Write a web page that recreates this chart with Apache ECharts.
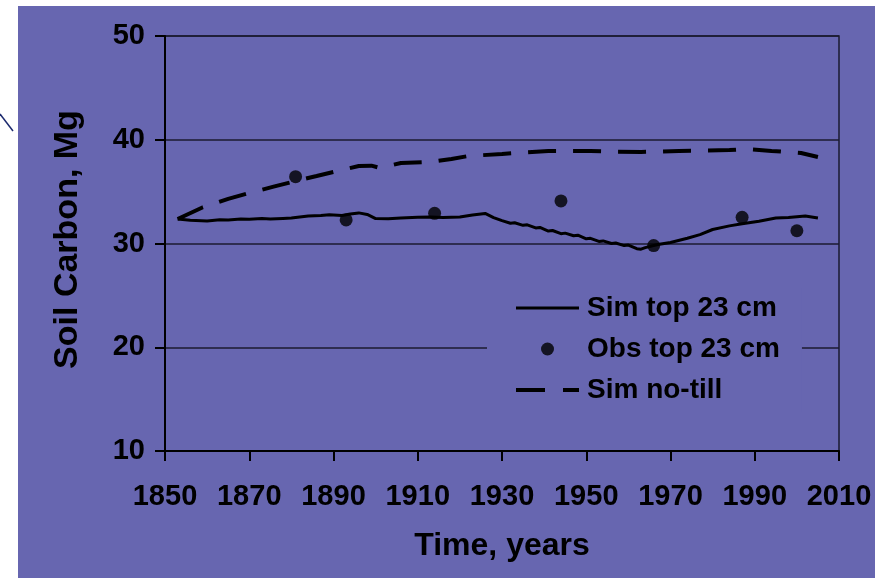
<!DOCTYPE html>
<html>
<head>
<meta charset="utf-8">
<script src="https://cdn.jsdelivr.net/npm/echarts@6/dist/echarts.min.js"></script>
<style>
  html, body { margin: 0; padding: 0; background: #ffffff; }
  #chart { width: 875px; height: 578px; }
</style>
</head>
<body>
<div id="chart"></div>
<script>
// Soil carbon in the top 23 cm, simulated vs observed, plus the simulated no-till scenario.
const baseYear = 1850;
const xTickYears = [1850, 1870, 1890, 1910, 1930, 1950, 1970, 1990, 2010];
const yTickValues = [10, 20, 30, 40, 50];

const simYears = [1853, 1856, 1860, 1863, 1865, 1868, 1870, 1873, 1875, 1878, 1880, 1884, 1887, 1889, 1892, 1894, 1896, 1898, 1900,
  1903, 1906, 1910, 1913, 1916, 1920, 1923, 1926, 1928, 1930, 1932, 1933, 1935, 1936, 1938, 1939, 1941, 1942, 1944, 1945, 1947,
  1948, 1950, 1951, 1953, 1954, 1956, 1957, 1959, 1960, 1962, 1963, 1964, 1967, 1970, 1974, 1977, 1980, 1984, 1987, 1991, 1995,
  1998, 2002, 2005];
const simValues = [32.36, 32.25, 32.17, 32.3, 32.27, 32.35, 32.33, 32.4, 32.36, 32.42, 32.46, 32.65, 32.7, 32.78, 32.7, 32.85, 32.95, 32.8, 32.4,
  32.38, 32.46, 32.52, 32.55, 32.5, 32.55, 32.75, 32.9, 32.5, 32.2, 31.95, 32.0, 31.75, 31.8, 31.5, 31.55, 31.2, 31.25, 30.95, 31.0, 30.75,
  30.8, 30.45, 30.5, 30.2, 30.25, 30.0, 30.05, 29.8, 29.85, 29.5, 29.45, 29.6, 29.9, 30.1, 30.5, 30.85, 31.35, 31.7, 31.9, 32.15, 32.45,
  32.5, 32.65, 32.45];

const obsYears = [1881, 1893, 1914, 1944, 1966, 1987, 2000];
const obsValues = [36.44, 32.27, 32.91, 34.1, 29.8, 32.52, 31.23];

const noTillYears = [1853, 1859, 1865, 1870, 1876, 1881, 1886, 1891, 1896, 1899, 1901, 1906, 1913, 1918, 1922, 1930, 1936, 1941,
  1951, 1957, 1963, 1972, 1984, 1988, 1994, 2001, 2005];
const noTillValues = [32.36, 33.5, 34.3, 34.87, 35.5, 36.02, 36.5, 36.99, 37.47, 37.5, 37.28, 37.76, 37.86, 38.15, 38.43, 38.63, 38.8, 38.92,
  38.92, 38.85, 38.82, 38.92, 39.01, 39.1, 38.92, 38.72, 38.34];

const seriesNames = ['Sim top 23 cm', 'Obs top 23 cm', 'Sim no-till'];

// x is plotted as years since 1850 so the tick grid starts exactly at 1850
const pairs = (years, values) => years.map((y, i) => [y - baseYear, values[i]]);

const bg = '#6766b0';
const ink = '#000000';
const font = '"Liberation Sans", Arial, sans-serif';

// legend keys: thin solid bar and a two-piece dash, padded to the full key box with move-to points
const solidKey = 'path://M0,0 M63,13 M0,5 L63,5 L63,8 L0,8 Z';
const dashKey = 'path://M0,0 M63,13 M0,4.5 L29,4.5 L29,8.5 L0,8.5 Z M47,4.5 L63,4.5 L63,8.5 L47,8.5 Z';

const chart = echarts.init(document.getElementById('chart'), null, { renderer: 'canvas' });
chart.setOption({
  backgroundColor: bg,
  animation: false,
  graphic: [
    { type: 'rect', shape: { x: 0, y: 0, width: 18, height: 578 }, style: { fill: '#ffffff' }, silent: true },
    { type: 'rect', shape: { x: 0, y: 0, width: 875, height: 6 }, style: { fill: '#ffffff' }, silent: true },
    { type: 'line', shape: { x1: 0, y1: 114, x2: 13, y2: 131 }, style: { stroke: '#1c2a6e', lineWidth: 1.5 }, silent: true }
  ],
  grid: {
    left: 165, right: 36, top: 36, bottom: 127,
    show: true, borderColor: '#1b1b30', borderWidth: 1.5, backgroundColor: 'transparent'
  },
  legend: {
    orient: 'vertical',
    left: 487, top: 288,
    padding: [6, 22, 8, 29],
    backgroundColor: bg,
    itemWidth: 63, itemHeight: 13, itemGap: 13,
    data: [
      { name: seriesNames[0], icon: solidKey },
      { name: seriesNames[1], icon: 'circle' },
      { name: seriesNames[2], icon: dashKey }
    ],
    textStyle: { color: ink, fontSize: 28, fontWeight: 'bold', fontFamily: font, padding: [0, 0, 0, 3] }
  },
  xAxis: {
    type: 'value',
    min: 0, max: xTickYears[xTickYears.length - 1] - baseYear, interval: xTickYears[1] - xTickYears[0],
    name: 'Time, years', nameLocation: 'middle', nameGap: 79,
    nameTextStyle: { color: ink, fontSize: 32, fontWeight: 'bold', fontFamily: font },
    axisLine: { show: true, onZero: false, lineStyle: { color: ink, width: 2 } },
    axisTick: { show: true, inside: false, length: 10, lineStyle: { color: ink, width: 2 } },
    axisLabel: { color: ink, fontSize: 29, fontWeight: 'bold', fontFamily: font, margin: 31,
      formatter: v => String(v + baseYear) },
    splitLine: { show: false }
  },
  yAxis: {
    type: 'value',
    min: yTickValues[0], max: yTickValues[yTickValues.length - 1], interval: yTickValues[1] - yTickValues[0],
    name: 'Soil Carbon, Mg', nameLocation: 'middle', nameGap: 80, nameRotate: 90,
    nameTextStyle: { color: ink, fontSize: 34, fontWeight: 'bold', fontFamily: font, padding: [0, 0, 0, 8] },
    axisLine: { show: true, lineStyle: { color: ink, width: 2 } },
    axisTick: { show: true, inside: false, length: 10, lineStyle: { color: ink, width: 2 } },
    axisLabel: { color: ink, fontSize: 29, fontWeight: 'bold', fontFamily: font, margin: 20 },
    splitLine: { show: true, lineStyle: { color: '#1b1b30', width: 1.5 } }
  },
  series: [
    {
      name: seriesNames[0], type: 'line', data: pairs(simYears, simValues),
      symbol: 'none', smooth: false,
      lineStyle: { color: ink, width: 3 }, itemStyle: { color: ink }, z: 3
    },
    {
      name: seriesNames[1], type: 'scatter', data: pairs(obsYears, obsValues),
      symbol: 'circle', symbolSize: 13,
      itemStyle: { color: ink }, z: 4
    },
    {
      name: seriesNames[2], type: 'line', data: pairs(noTillYears, noTillValues),
      symbol: 'none', smooth: false,
      lineStyle: { color: ink, width: 4, type: [28, 17] }, itemStyle: { color: ink }, z: 3
    }
  ]
});
</script>
</body>
</html>
